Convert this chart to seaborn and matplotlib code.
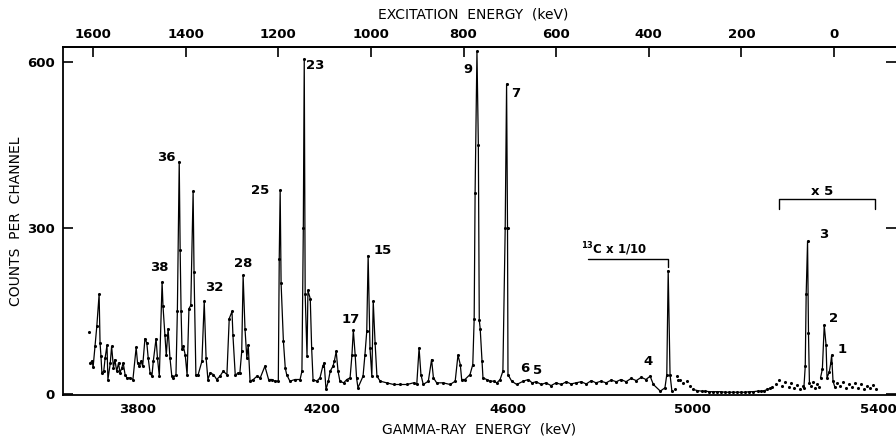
import numpy as np
import pandas as pd
import matplotlib
matplotlib.use("Agg")
import matplotlib.pyplot as plt
import seaborn as sns

# ---------------- data ----------------
# connected spectrum (gamma energy keV, counts per channel)
main_energy = [3698, 3703, 3705, 3709, 3713, 3718, 3720, 3722, 3724, 3728, 3731, 3735, 3737, 3742, 3745, 3749,
               3752, 3756, 3760, 3763, 3767, 3770, 3774, 3778, 3785, 3791, 3798, 3801, 3805, 3809, 3812, 3817,
               3821, 3824, 3828, 3832, 3835, 3841, 3844, 3848, 3854, 3856, 3860, 3863, 3867, 3871, 3875, 3878,
               3884, 3887, 3891, 3893, 3895, 3897, 3900, 3904, 3908, 3912, 3916, 3921, 3923, 3927, 3932, 3940,
               3945, 3949, 3953, 3958, 3965, 3972, 3979, 3986, 3994, 3999, 4005, 4007, 4012, 4019, 4022, 4026,
               4029, 4033, 4037, 4040, 4044, 4051, 4059, 4066, 4076, 4084, 4091, 4098, 4105, 4107, 4109, 4111,
               4116, 4120, 4123, 4130, 4141, 4152, 4156, 4159, 4161, 4163, 4167, 4169, 4174, 4177, 4180, 4188,
               4195, 4201, 4204, 4208, 4213, 4217, 4223, 4226, 4230, 4234, 4238, 4246, 4253, 4260, 4264, 4267,
               4271, 4274, 4277, 4288, 4292, 4296, 4299, 4303, 4307, 4310, 4314, 4318, 4325, 4339, 4354, 4368,
               4383, 4397, 4404, 4409, 4413, 4418, 4429, 4436, 4440, 4447, 4461, 4476, 4487, 4493, 4498, 4501,
               4508, 4519, 4525, 4528, 4530, 4534, 4537, 4539, 4541, 4545, 4547, 4555, 4562, 4570, 4577, 4584,
               4590, 4595, 4598, 4600, 4601, 4609, 4620, 4634, 4645, 4653, 4662, 4673, 4683, 4694, 4705, 4716,
               4727, 4737, 4748, 4759, 4770, 4781, 4791, 4802, 4813, 4824, 4835, 4845, 4856, 4867, 4878, 4889,
               4899, 4908, 4915, 4930, 4940, 4944, 4947, 4951, 4955]
main_counts = [55, 60, 48, 86, 122, 180, 92, 68, 38, 41, 65, 88, 26, 55, 86, 47,
               62, 41, 56, 38, 47, 56, 35, 29, 29, 26, 84, 56, 50, 59, 50, 100,
               92, 65, 38, 32, 59, 100, 65, 32, 202, 158, 106, 70, 118, 65, 32, 29,
               35, 150, 420, 260, 150, 82, 86, 70, 34, 154, 160, 366, 220, 34, 35, 59,
               167, 65, 26, 38, 35, 26, 32, 41, 35, 136, 149, 106, 34, 38, 38, 77,
               214, 118, 65, 88, 23, 26, 32, 29, 50, 26, 26, 23, 23, 244, 368, 200,
               95, 47, 35, 23, 26, 26, 41, 300, 605, 181, 68, 187, 172, 83, 26, 23,
               29, 50, 56, 8, 23, 41, 50, 59, 77, 41, 23, 20, 26, 29, 70, 115,
               70, 29, 11, 32, 70, 113, 250, 83, 32, 167, 92, 32, 23, 20, 17, 17,
               17, 20, 17, 83, 35, 17, 23, 62, 29, 20, 20, 17, 23, 70, 53, 26,
               26, 35, 53, 136, 364, 619, 450, 133, 118, 59, 29, 26, 23, 23, 20, 26,
               41, 300, 560, 300, 35, 23, 17, 23, 26, 20, 22, 17, 20, 15, 20, 17,
               22, 18, 20, 22, 18, 24, 20, 23, 20, 25, 22, 26, 22, 28, 24, 30,
               26, 32, 17, 5, 11, 35, 223, 35, 5]

# smooth low tail after the 13C line
tail_energy = [5001, 5010, 5019, 5027, 5036, 5044, 5053, 5061, 5070, 5079, 5088, 5096, 5105, 5113, 5122,
               5131, 5140, 5148, 5155, 5161, 5167, 5172]
tail_counts = [8, 6, 5, 5, 4, 4, 4, 4, 3, 3, 3, 3, 3, 3, 4,
               4, 5, 5, 6, 8, 10, 12]

# x5 region peaks (lines 3, 2, 1)
peak3_energy = [5240, 5243, 5245, 5248, 5250, 5252]
peak3_counts = [10, 50, 180, 276, 110, 20]
peak21_energy = [5276, 5280, 5284, 5288, 5290, 5295, 5298, 5300, 5303, 5307]
peak21_counts = [29, 45, 124, 88, 29, 40, 55, 70, 23, 12]

# isolated dots
dot_energy = [3696, 4962, 4965, 4969, 4973, 4979, 4987, 4994,
              5180, 5187, 5193, 5200, 5207, 5213, 5219, 5226, 5232, 5239,
              5256, 5260, 5265, 5269, 5273, 5311, 5318, 5324, 5331, 5337,
              5344, 5351, 5357, 5364, 5370, 5377, 5383, 5390, 5396]
dot_counts = [111, 8, 32, 26, 26, 20, 23, 14,
              18, 26, 15, 22, 12, 20, 10, 16, 8, 14,
              14, 22, 10, 18, 12, 20, 15, 22, 10, 18,
              12, 20, 10, 17, 8, 14, 10, 16, 8]

# peak labels
peak_labels = ["36", "38", "32", "28", "25", "23", "17", "15", "9", "7", "6", "5", "4", "3", "2", "1"]
label_energy = [3863, 3848, 3966, 4029, 4066, 4184, 4262, 4331, 4514, 4618, 4638, 4665, 4903, 5282, 5304, 5322]
label_counts = [427, 229, 192, 235, 367, 594, 135, 259, 586, 543, 45, 42, 59, 289, 136, 80]

bottom_ticks = [3800, 4000, 4200, 4400, 4600, 4800, 5000, 5200, 5400]
bottom_labels = ["3800", "", "4200", "", "4600", "", "5000", "", "5400"]
top_ticks = [0, 200, 400, 600, 800, 1000, 1200, 1400, 1600]
y_ticks = [0, 300, 600]

# ---------------- frame ----------------
segs = []
for name, e, c in [("main", main_energy, main_counts), ("tail", tail_energy, tail_counts),
                   ("p3", peak3_energy, peak3_counts), ("p21", peak21_energy, peak21_counts)]:
    segs.append(pd.DataFrame({"energy": e, "counts": c, "seg": name}))
lines_df = pd.concat(segs, ignore_index=True)
dots_df = pd.DataFrame({"energy": dot_energy, "counts": dot_counts})

sns.set_theme(style="white")
plt.rcParams["font.family"] = ["DejaVu Sans"]
plt.rcParams.update({"text.color": "black", "axes.labelcolor": "black",
                     "xtick.color": "black", "ytick.color": "black"})

fig = plt.figure(figsize=(8.96, 4.41), dpi=100)
ax = fig.add_axes([63 / 896, 46 / 441, 833 / 896, 348 / 441])

sns.lineplot(data=lines_df, x="energy", y="counts", units="seg", estimator=None, sort=True,
             color="black", linewidth=0.9, ax=ax, legend=False)
sns.scatterplot(data=lines_df, x="energy", y="counts", color="black", s=5, linewidth=0, ax=ax, legend=False)
sns.scatterplot(data=dots_df, x="energy", y="counts", color="black", s=5, linewidth=0, ax=ax, legend=False)

ax.set_xlim(3640, 5439)
ax.set_ylim(-2, 627)

for s in ["left", "bottom", "top"]:
    ax.spines[s].set_color("black")
    ax.spines[s].set_linewidth(1.3)
ax.spines["right"].set_visible(False)

ax.set_xticks(bottom_ticks)
ax.set_xticklabels(bottom_labels)
ax.set_yticks(y_ticks)
ax.set_yticklabels([str(v) for v in y_ticks])
ax.tick_params(axis="x", direction="in", length=7, width=1.2, pad=6, labelsize=9.5, colors="black")
ax.tick_params(axis="y", direction="in", length=7, width=1.2, pad=6, labelsize=9.5, colors="black",
               right=True, left=True)
for lab in ax.get_xticklabels() + ax.get_yticklabels():
    lab.set_fontweight("bold")

C = 5305
top = ax.secondary_xaxis("top", functions=(lambda e: C - e, lambda x: C - x))
top.set_xticks(top_ticks)
top.set_xticklabels([str(v) for v in top_ticks])
top.tick_params(direction="in", length=7, width=1.2, pad=4, labelsize=9.5, colors="black")
for lab in top.get_xticklabels():
    lab.set_fontweight("bold")
top.spines["top"].set_linewidth(1.3)
top.spines["top"].set_color("black")

ax.set_xlabel("GAMMA-RAY  ENERGY  (keV)", fontsize=10, color="black")
ax.xaxis.set_label_coords(0.50, -0.078)
ax.set_ylabel("COUNTS  PER  CHANNEL", fontsize=10, color="black")
ax.yaxis.set_label_coords(-0.048, 0.50)
ax.text(0.493, 1.092, "EXCITATION  ENERGY  (keV)", transform=ax.transAxes, ha="center", va="center",
        fontsize=10, color="black")

for lab, e, c in zip(peak_labels, label_energy, label_counts):
    ax.text(e, c, lab, ha="center", va="center", fontsize=9.5, fontweight="bold", color="black")

# 13C x 1/10 bracket
ax.plot([4774, 4947, 4947], [244, 244, 230], color="black", linewidth=1.0)
ax.text(4830, 262, r"$^{\mathbf{13}}$C x 1/10", ha="center", va="center", fontsize=8.5,
        fontweight="bold", color="black")
# x5 bracket
ax.plot([5187, 5187, 5394, 5394], [334, 352, 352, 334], color="black", linewidth=1.0)
ax.text(5280, 366, "x 5", ha="center", va="center", fontsize=9.5, fontweight="bold", color="black")

fig.savefig("out.png", dpi=100)
